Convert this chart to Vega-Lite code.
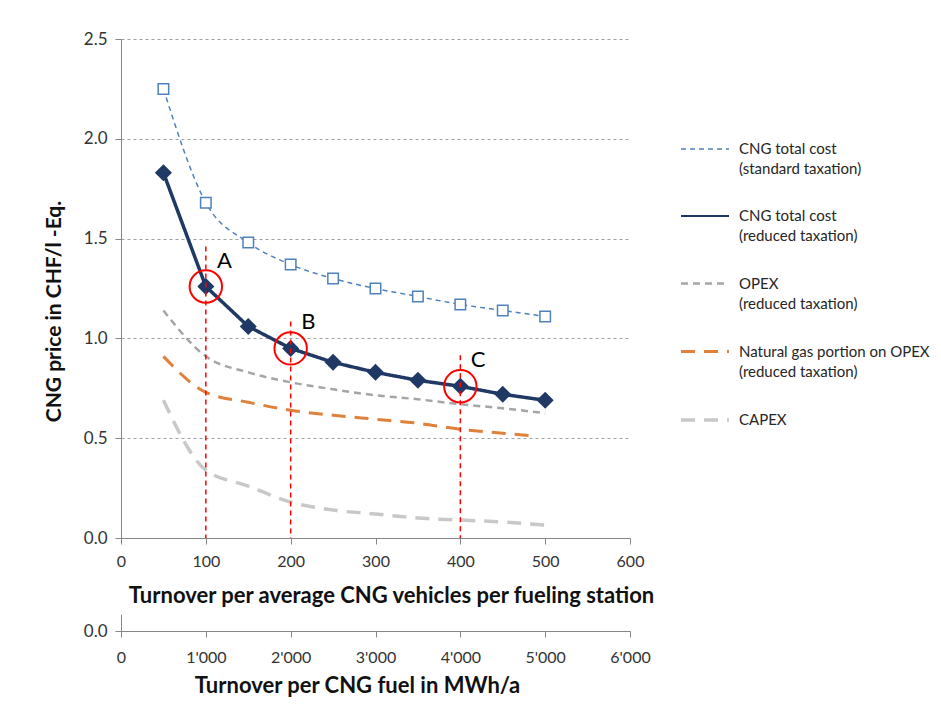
{
  "$schema": "https://vega.github.io/schema/vega-lite/v6.json",
  "background": "white",
  "padding": {"left": 43, "top": 30, "right": 5, "bottom": 5},
  "config": {
    "font": "Lato",
    "view": {"stroke": null},
    "concat": {"spacing": 8},
    "style": {"guide-label": {"lineHeight": 20}},
    "axis": {
      "domainColor": "#868686",
      "tickColor": "#868686",
      "tickSize": 6,
      "labelFontSize": 16,
      "labelColor": "#333333",
      "labelPadding": 8,
      "labelFlush": false,
      "titleFontSize": 22,
      "titleFontWeight": "bold",
      "titleColor": "#111111"
    }
  },
  "datasets": {
    "lines": [
      {"x": 50, "y": 2.25, "series": "CNG total cost\n(standard taxation)"},
      {"x": 100, "y": 1.68, "series": "CNG total cost\n(standard taxation)"},
      {"x": 150, "y": 1.48, "series": "CNG total cost\n(standard taxation)"},
      {"x": 200, "y": 1.37, "series": "CNG total cost\n(standard taxation)"},
      {"x": 250, "y": 1.30, "series": "CNG total cost\n(standard taxation)"},
      {"x": 300, "y": 1.25, "series": "CNG total cost\n(standard taxation)"},
      {"x": 350, "y": 1.21, "series": "CNG total cost\n(standard taxation)"},
      {"x": 400, "y": 1.17, "series": "CNG total cost\n(standard taxation)"},
      {"x": 450, "y": 1.14, "series": "CNG total cost\n(standard taxation)"},
      {"x": 500, "y": 1.11, "series": "CNG total cost\n(standard taxation)"},
      {"x": 50, "y": 1.83, "series": "CNG total cost\n(reduced taxation)"},
      {"x": 100, "y": 1.26, "series": "CNG total cost\n(reduced taxation)"},
      {"x": 150, "y": 1.06, "series": "CNG total cost\n(reduced taxation)"},
      {"x": 200, "y": 0.95, "series": "CNG total cost\n(reduced taxation)"},
      {"x": 250, "y": 0.88, "series": "CNG total cost\n(reduced taxation)"},
      {"x": 300, "y": 0.83, "series": "CNG total cost\n(reduced taxation)"},
      {"x": 350, "y": 0.79, "series": "CNG total cost\n(reduced taxation)"},
      {"x": 400, "y": 0.76, "series": "CNG total cost\n(reduced taxation)"},
      {"x": 450, "y": 0.72, "series": "CNG total cost\n(reduced taxation)"},
      {"x": 500, "y": 0.69, "series": "CNG total cost\n(reduced taxation)"},
      {"x": 50, "y": 1.14, "series": "OPEX\n(reduced taxation)"},
      {"x": 100, "y": 0.91, "series": "OPEX\n(reduced taxation)"},
      {"x": 150, "y": 0.83, "series": "OPEX\n(reduced taxation)"},
      {"x": 200, "y": 0.78, "series": "OPEX\n(reduced taxation)"},
      {"x": 250, "y": 0.745, "series": "OPEX\n(reduced taxation)"},
      {"x": 300, "y": 0.715, "series": "OPEX\n(reduced taxation)"},
      {"x": 350, "y": 0.695, "series": "OPEX\n(reduced taxation)"},
      {"x": 400, "y": 0.67, "series": "OPEX\n(reduced taxation)"},
      {"x": 450, "y": 0.65, "series": "OPEX\n(reduced taxation)"},
      {"x": 500, "y": 0.625, "series": "OPEX\n(reduced taxation)"},
      {"x": 50, "y": 0.91, "series": "Natural gas  portion on OPEX\n(reduced taxation)"},
      {"x": 100, "y": 0.73, "series": "Natural gas  portion on OPEX\n(reduced taxation)"},
      {"x": 150, "y": 0.68, "series": "Natural gas  portion on OPEX\n(reduced taxation)"},
      {"x": 200, "y": 0.64, "series": "Natural gas  portion on OPEX\n(reduced taxation)"},
      {"x": 250, "y": 0.615, "series": "Natural gas  portion on OPEX\n(reduced taxation)"},
      {"x": 300, "y": 0.595, "series": "Natural gas  portion on OPEX\n(reduced taxation)"},
      {"x": 350, "y": 0.575, "series": "Natural gas  portion on OPEX\n(reduced taxation)"},
      {"x": 400, "y": 0.545, "series": "Natural gas  portion on OPEX\n(reduced taxation)"},
      {"x": 450, "y": 0.525, "series": "Natural gas  portion on OPEX\n(reduced taxation)"},
      {"x": 490, "y": 0.51, "series": "Natural gas  portion on OPEX\n(reduced taxation)"},
      {"x": 50, "y": 0.69, "series": "CAPEX"},
      {"x": 100, "y": 0.34, "series": "CAPEX"},
      {"x": 150, "y": 0.26, "series": "CAPEX"},
      {"x": 200, "y": 0.18, "series": "CAPEX"},
      {"x": 250, "y": 0.14, "series": "CAPEX"},
      {"x": 300, "y": 0.12, "series": "CAPEX"},
      {"x": 350, "y": 0.10, "series": "CAPEX"},
      {"x": 400, "y": 0.09, "series": "CAPEX"},
      {"x": 450, "y": 0.08, "series": "CAPEX"},
      {"x": 500, "y": 0.065, "series": "CAPEX"}
    ],
    "marks": [
      {"x": 100, "y": 1.26, "top": 1.46, "bottom": 0, "label": "A", "lx": 122, "ly": 1.39},
      {"x": 200, "y": 0.95, "top": 1.085, "bottom": 0, "label": "B", "lx": 221, "ly": 1.08},
      {"x": 400, "y": 0.76, "top": 0.915, "bottom": 0, "label": "C", "lx": 421, "ly": 0.89}
    ],
    "fuel": [
      {"mwh": 1000, "v": 0}, {"mwh": 2000, "v": 0}, {"mwh": 4000, "v": 0}
    ]
  },
  "vconcat": [
    {
      "width": 509,
      "height": 499,
      "layer": [
        {
          "data": {"name": "lines"},
          "transform": [{"filter": "datum.series != 'CNG total cost\\n(reduced taxation)'"}],
          "mark": {"type": "line", "interpolate": "monotone"},
          "encoding": {
            "x": {"field": "x", "type": "quantitative", "scale": {"domain": [0, 600], "nice": false},
              "axis": {"values": [0, 100, 200, 300, 400, 500, 600], "title": "Turnover per average CNG vehicles per fueling station", "grid": false, "titleX": 270, "labelPadding": 9, "titlePadding": 16}},
            "y": {"field": "y", "type": "quantitative", "scale": {"domain": [0, 2.5], "nice": false},
              "axis": {"values": [0, 0.5, 1, 1.5, 2, 2.5], "format": ".1f", "labelFontSize": 17, "title": "CNG price in CHF/l -Eq.", "titleFontSize": 21, "titleX": -67, "titleY": 272, "titleBaseline": "middle", "titlePadding": 12, "gridDash": [3, 3], "gridColor": "#a0a0a0"}},
            "color": {"field": "series", "type": "nominal",
              "scale": {"domain": ["CNG total cost\n(standard taxation)", "CNG total cost\n(reduced taxation)", "OPEX\n(reduced taxation)", "Natural gas  portion on OPEX\n(reduced taxation)", "CAPEX"],
                "range": ["#4f81bd", "#1f3864", "#a5a5a5", "#e0813b", "#c8c8c8"]},
              "legend": {"title": null, "orient": "none", "legendX": 558, "legendY": 85, "symbolType": "stroke", "symbolSize": 2304, "labelFontSize": 15, "labelColor": "#262626", "labelOffset": 8, "rowPadding": 14, "padding": 0, "labelExpr": "split(datum.label, '\\n')", "labelLimit": 300}},
            "strokeDash": {"field": "series", "type": "nominal",
              "scale": {"domain": ["CNG total cost\n(standard taxation)", "CNG total cost\n(reduced taxation)", "OPEX\n(reduced taxation)", "Natural gas  portion on OPEX\n(reduced taxation)", "CAPEX"],
                "range": [[5, 4], [1, 0], [7, 5], [14, 9], [14, 9]]}},
            "strokeWidth": {"field": "series", "type": "nominal",
              "scale": {"domain": ["CNG total cost\n(standard taxation)", "CNG total cost\n(reduced taxation)", "OPEX\n(reduced taxation)", "Natural gas  portion on OPEX\n(reduced taxation)", "CAPEX"],
                "range": [1.5, 3.5, 3.5, 3.5, 3.5]}}
          }
        },
        {
          "data": {"name": "lines"},
          "transform": [{"filter": "datum.series == 'CNG total cost\\n(reduced taxation)'"}],
          "mark": {"type": "line", "strokeWidth": 3.5},
          "encoding": {
            "x": {"field": "x", "type": "quantitative"},
            "y": {"field": "y", "type": "quantitative"},
            "color": {"field": "series", "type": "nominal"},
            "strokeDash": {"field": "series", "type": "nominal"}
          }
        },
        {
          "data": {"name": "lines"},
          "transform": [{"filter": "datum.series == 'CNG total cost\\n(standard taxation)'"}],
          "mark": {"type": "point", "shape": "square", "filled": true, "fill": "white", "stroke": "#4f81bd", "strokeWidth": 1.5, "size": 110, "opacity": 1},
          "encoding": {
            "x": {"field": "x", "type": "quantitative"},
            "y": {"field": "y", "type": "quantitative"}
          }
        },
        {
          "data": {"name": "lines"},
          "transform": [{"filter": "datum.series == 'CNG total cost\\n(reduced taxation)'"}],
          "mark": {"type": "point", "shape": "diamond", "filled": true, "color": "#1f3864", "size": 290, "opacity": 1},
          "encoding": {
            "x": {"field": "x", "type": "quantitative"},
            "y": {"field": "y", "type": "quantitative"}
          }
        },
        {
          "data": {"name": "marks"},
          "mark": {"type": "rule", "color": "#ff0000", "strokeWidth": 1.5, "strokeDash": [5, 4]},
          "encoding": {
            "x": {"field": "x", "type": "quantitative"},
            "y": {"field": "top", "type": "quantitative"},
            "y2": {"field": "bottom"}
          }
        },
        {
          "data": {"name": "marks"},
          "mark": {"type": "point", "shape": "circle", "filled": false, "stroke": "#ff0000", "strokeWidth": 2, "size": 1050, "opacity": 1},
          "encoding": {
            "x": {"field": "x", "type": "quantitative"},
            "y": {"field": "y", "type": "quantitative"}
          }
        },
        {
          "data": {"name": "marks"},
          "mark": {"type": "text", "fontSize": 22, "color": "#000000", "align": "center", "baseline": "middle"},
          "encoding": {
            "x": {"field": "lx", "type": "quantitative"},
            "y": {"field": "ly", "type": "quantitative"},
            "text": {"field": "label"}
          }
        }
      ]
    },
    {
      "width": 509,
      "height": 17,
      "data": {"name": "fuel"},
      "mark": {"type": "point", "opacity": 0},
      "encoding": {
        "x": {"field": "mwh", "type": "quantitative", "scale": {"domain": [0, 6000], "nice": false},
          "axis": {"values": [0, 1000, 2000, 3000, 4000, 5000, 6000], "labelExpr": "replace(format(datum.value, ','), ',', \"'\")", "title": "Turnover per CNG fuel in MWh/a", "grid": false, "titleX": 236, "labelPadding": 12, "titlePadding": 10}},
        "y": {"field": "v", "type": "quantitative", "scale": {"domain": [0, 1], "nice": false},
          "axis": {"values": [0], "format": ".1f", "labelFontSize": 17, "title": null, "grid": false}}
      }
    }
  ]
}
